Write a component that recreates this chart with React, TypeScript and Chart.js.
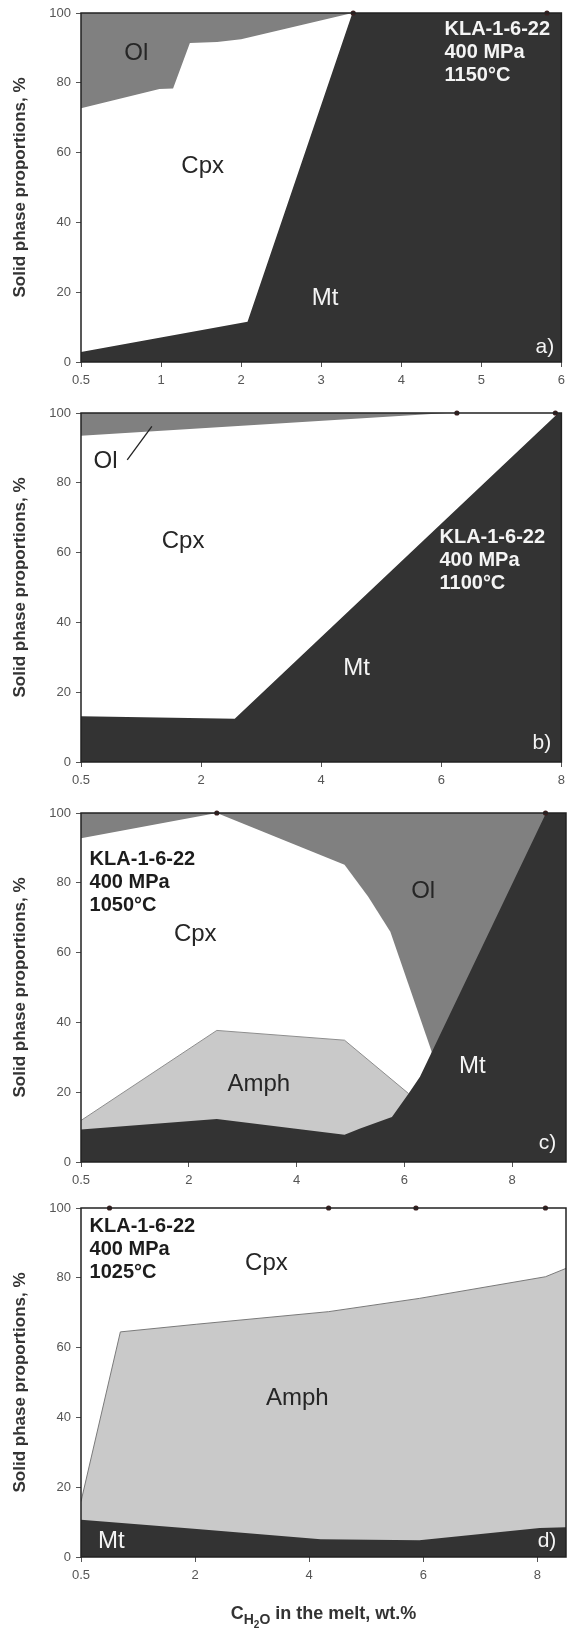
import React, { useEffect, useRef } from 'react';
import { Chart, registerables } from 'chart.js';

Chart.register(...registerables);

const FONT = '"Liberation Sans", Arial, Helvetica, sans-serif';

// ---------- shared axis data ----------
const yTicks = [0, 20, 40, 60, 80, 100];
const yTitle = 'Solid phase proportions, %';

// ---------- panel a (1150°C) ----------
const aXTicks = [0, 1, 2, 3, 4, 5, 6];
const aXLabels = ['0.5', '1', '2', '3', '4', '5', '6'];
const aOlX = [0, 6];
const aOlY = [100, 100];
const aCpxX = [0, 0.98, 1.15, 1.36, 1.7, 2.0, 3.39];
const aCpxY = [72.7, 78.2, 78.4, 91.4, 91.7, 92.5, 100];
const aMtX = [0, 2.08, 3.39, 6];
const aMtY = [2.9, 11.5, 100, 100];
const aDotsX = [3.4, 5.82];

// ---------- panel b (1100°C) ----------
const bXTicks = [0, 2, 4, 6, 8];
const bXLabels = ['0.5', '2', '4', '6', '8'];
const bOlX = [0, 8];
const bOlY = [100, 100];
const bCpxX = [0, 6.1, 8];
const bCpxY = [93.5, 100, 100];
const bMtX = [0, 2.56, 7.95, 8];
const bMtY = [13.1, 12.4, 100, 100];
const bDotsX = [6.26, 7.9];
const bPointerX = [0.77, 1.18];
const bPointerY = [86.6, 96.2];

// ---------- panel c (1050°C) ----------
const cXTicks = [0, 2, 4, 6, 8];
const cXLabels = ['0.5', '2', '4', '6', '8'];
const cOlX = [0, 9];
const cOlY = [100, 100];
const cCpxX = [0, 2.52, 4.89, 5.33, 5.74, 6.51];
const cCpxY = [92.8, 100, 85.2, 76, 66, 31.5];
const cAmphX = [0, 2.52, 4.89, 6.08];
const cAmphY = [11.9, 37.7, 34.9, 19.6];
const cMtX = [0, 2.52, 4.89, 5.18, 5.77, 6.08, 6.29, 6.51, 8.63, 9];
const cMtY = [9.3, 12.3, 7.8, 9.6, 12.9, 19.6, 24.4, 31.5, 100, 100];
const cDotsX = [2.52, 8.62];

// ---------- panel d (1025°C) ----------
const dXTicks = [0, 2, 4, 6, 8];
const dXLabels = ['0.5', '2', '4', '6', '8'];
const dCpxX = [0, 8.5];
const dCpxY = [100, 100];
const dAmphX = [0, 0.69, 2.03, 4.34, 5.93, 8.14, 8.5];
const dAmphY = [15.9, 64.5, 66.7, 70.3, 74.1, 80.3, 82.7];
const dMtX = [0, 2.03, 4.2, 5.93, 8.04, 8.5];
const dMtY = [10.7, 8.0, 5.1, 4.8, 8.3, 8.5];
const dDotsX = [0.5, 4.34, 5.87, 8.14];

// ---------- styles ----------
const DARK = '#333333';
const OL = '#808080';
const AMPH = '#c9c9c9';
const WHITE = '#ffffff';
const INK = '#262626';
const LIGHT_TXT = '#f4f4f4';

type Layer = { name: string; x: number[]; y: number[]; color: string; border?: string };
type Label = { lines: string[]; x: number; y: number; kind: 'phase' | 'info' | 'tag'; color: string; align: CanvasTextAlign };
type Panel = {
  top: number;
  xMax: number;
  xTicks: number[];
  xLabels: string[];
  layers: Layer[];
  dotsX: number[];
  labels: Label[];
  pointer?: { x: number[]; y: number[] };
  xTitle?: boolean;
};

const PLOT_H = 349;
const PAD_TOP = 13;
const Y_AXIS_W = 81;
const RIGHT_PAD = 5;

const panels: Panel[] = [
  {
    top: 13,
    xMax: 6,
    xTicks: aXTicks,
    xLabels: aXLabels,
    layers: [
      { name: 'Ol', x: aOlX, y: aOlY, color: OL },
      { name: 'Cpx', x: aCpxX, y: aCpxY, color: WHITE },
      { name: 'Mt', x: aMtX, y: aMtY, color: DARK },
    ],
    dotsX: aDotsX,
    labels: [
      { lines: ['Ol'], x: 0.69, y: 88.5, kind: 'phase', color: INK, align: 'center' },
      { lines: ['Cpx'], x: 1.52, y: 56, kind: 'phase', color: INK, align: 'center' },
      { lines: ['Mt'], x: 3.05, y: 18.2, kind: 'phase', color: LIGHT_TXT, align: 'center' },
      { lines: ['KLA-1-6-22', '400 MPa', '1150°C'], x: 4.54, y: 95.3, kind: 'info', color: LIGHT_TXT, align: 'left' },
      { lines: ['a)'], x: 5.91, y: 4.3, kind: 'tag', color: LIGHT_TXT, align: 'right' },
    ],
  },
  {
    top: 413,
    xMax: 8,
    xTicks: bXTicks,
    xLabels: bXLabels,
    layers: [
      { name: 'Ol', x: bOlX, y: bOlY, color: OL },
      { name: 'Cpx', x: bCpxX, y: bCpxY, color: WHITE },
      { name: 'Mt', x: bMtX, y: bMtY, color: DARK },
    ],
    dotsX: bDotsX,
    pointer: { x: bPointerX, y: bPointerY },
    labels: [
      { lines: ['Ol'], x: 0.41, y: 86.2, kind: 'phase', color: INK, align: 'center' },
      { lines: ['Cpx'], x: 1.7, y: 63.2, kind: 'phase', color: INK, align: 'center' },
      { lines: ['Mt'], x: 4.59, y: 26.9, kind: 'phase', color: LIGHT_TXT, align: 'center' },
      { lines: ['KLA-1-6-22', '400 MPa', '1100°C'], x: 5.97, y: 64.2, kind: 'info', color: LIGHT_TXT, align: 'left' },
      { lines: ['b)'], x: 7.83, y: 5.4, kind: 'tag', color: LIGHT_TXT, align: 'right' },
    ],
  },
  {
    top: 813,
    xMax: 9,
    xTicks: cXTicks,
    xLabels: cXLabels,
    layers: [
      { name: 'Ol', x: cOlX, y: cOlY, color: OL },
      { name: 'Cpx', x: cCpxX, y: cCpxY, color: WHITE },
      { name: 'Amph', x: cAmphX, y: cAmphY, color: AMPH, border: '#8e8e8e' },
      { name: 'Mt', x: cMtX, y: cMtY, color: DARK },
    ],
    dotsX: cDotsX,
    labels: [
      { lines: ['KLA-1-6-22', '400 MPa', '1050°C'], x: 0.16, y: 86.6, kind: 'info', color: '#1c1c1c', align: 'left' },
      { lines: ['Cpx'], x: 2.12, y: 65.1, kind: 'phase', color: INK, align: 'center' },
      { lines: ['Ol'], x: 6.35, y: 77.6, kind: 'phase', color: INK, align: 'center' },
      { lines: ['Amph'], x: 3.3, y: 22.2, kind: 'phase', color: INK, align: 'center' },
      { lines: ['Mt'], x: 7.26, y: 27.4, kind: 'phase', color: LIGHT_TXT, align: 'center' },
      { lines: ['c)'], x: 8.82, y: 5.4, kind: 'tag', color: LIGHT_TXT, align: 'right' },
    ],
  },
  {
    top: 1208,
    xMax: 8.5,
    xTicks: dXTicks,
    xLabels: dXLabels,
    layers: [
      { name: 'Cpx', x: dCpxX, y: dCpxY, color: WHITE },
      { name: 'Amph', x: dAmphX, y: dAmphY, color: AMPH, border: '#7a7a7a' },
      { name: 'Mt', x: dMtX, y: dMtY, color: DARK },
    ],
    dotsX: dDotsX,
    xTitle: true,
    labels: [
      { lines: ['KLA-1-6-22', '400 MPa', '1025°C'], x: 0.15, y: 94.6, kind: 'info', color: '#1c1c1c', align: 'left' },
      { lines: ['Cpx'], x: 3.25, y: 84.1, kind: 'phase', color: INK, align: 'center' },
      { lines: ['Amph'], x: 3.79, y: 45.5, kind: 'phase', color: INK, align: 'center' },
      { lines: ['Mt'], x: 0.53, y: 4.5, kind: 'phase', color: LIGHT_TXT, align: 'center' },
      { lines: ['d)'], x: 8.33, y: 4.5, kind: 'tag', color: LIGHT_TXT, align: 'right' },
    ],
  },
];

function fontFor(kind: Label['kind']) {
  if (kind === 'info') return `bold 20px ${FONT}`;
  if (kind === 'tag') return `21px ${FONT}`;
  return `24px ${FONT}`;
}

function makeOverlay(panel: Panel) {
  return {
    id: 'overlay',
    afterDatasetsDraw(chart: any) {
      const { ctx, chartArea: a } = chart;
      ctx.save();
      ctx.strokeStyle = '#222';
      ctx.lineWidth = 1.5;
      ctx.strokeRect(a.left, a.top, a.right - a.left, a.bottom - a.top);
      ctx.restore();
    },
    afterDraw(chart: any) {
      const { ctx, chartArea: a } = chart;
      const xs = chart.scales.x;
      const ys = chart.scales.y;
      ctx.save();
      ctx.textBaseline = 'middle';
      for (const lb of panel.labels) {
        const px = xs.getPixelForValue(lb.x);
        const py = ys.getPixelForValue(lb.y);
        ctx.font = fontFor(lb.kind);
        ctx.fillStyle = lb.color;
        ctx.textAlign = lb.align;
        lb.lines.forEach((t, k) => ctx.fillText(t, px, py + k * 23));
      }
      if (panel.xTitle) {
        const big = `bold 18px ${FONT}`;
        const sub = `bold 14px ${FONT}`;
        const sub2 = `bold 10px ${FONT}`;
        const parts: [string, string, number][] = [
          ['C', big, 0],
          ['H', sub, 5],
          ['2', sub2, 9],
          ['O', sub, 5],
          [' in the melt, wt.%', big, 0],
        ];
        let total = 0;
        for (const [t, f] of parts) {
          ctx.font = f;
          total += ctx.measureText(t).width;
        }
        let x = (a.left + a.right) / 2 - total / 2;
        const baseY = a.bottom + 62;
        ctx.fillStyle = '#333';
        ctx.textAlign = 'left';
        ctx.textBaseline = 'alphabetic';
        for (const [t, f, dy] of parts) {
          ctx.font = f;
          ctx.fillText(t, x, baseY + dy);
          x += ctx.measureText(t).width;
        }
      }
      ctx.restore();
    },
  };
}

function PanelChart({ panel }: { panel: Panel }) {
  const ref = useRef<HTMLCanvasElement | null>(null);
  const xAxisH = panel.xTitle ? 1637 - (panel.top + PLOT_H) : 40;
  const height = PAD_TOP + PLOT_H + xAxisH;
  const canvasTop = panel.top - PAD_TOP;

  useEffect(() => {
    if (!ref.current) return;
    const datasets: any[] = panel.layers.map((l, i) => ({
      label: l.name,
      data: l.x.map((x, j) => ({ x, y: l.y[j] })),
      backgroundColor: l.color,
      borderColor: l.border ?? l.color,
      borderWidth: l.border ? 1 : 0,
      fill: 'origin',
      pointRadius: 0,
      tension: 0,
      order: 10 - i,
    }));
    if (panel.pointer) {
      datasets.push({
        label: 'pointer',
        data: panel.pointer.x.map((x, j) => ({ x, y: panel.pointer!.y[j] })),
        borderColor: '#222',
        borderWidth: 1.3,
        pointRadius: 0,
        fill: false,
        order: -1,
      });
    }
    datasets.push({
      label: 'samples',
      data: panel.dotsX.map((x) => ({ x, y: 100 })),
      showLine: false,
      pointRadius: 2.6,
      pointBackgroundColor: '#3a2020',
      pointBorderWidth: 0,
      fill: false,
      order: -2,
      clip: false,
    });

    const chart = new Chart(ref.current, {
      type: 'line',
      data: { datasets },
      options: {
        animation: false,
        responsive: false,
        devicePixelRatio: 1,
        events: [],
        layout: { padding: { top: PAD_TOP, right: RIGHT_PAD, left: 0, bottom: 0 } },
        plugins: { legend: { display: false }, tooltip: { enabled: false } },
        scales: {
          x: {
            type: 'linear',
            min: 0,
            max: panel.xMax,
            afterBuildTicks: (s: any) => {
              s.ticks = panel.xTicks.map((v) => ({ value: v }));
            },
            afterFit: (s: any) => {
              s.height = xAxisH;
            },
            ticks: {
              callback: (_v: any, i: number) => panel.xLabels[i],
              font: { family: FONT, size: 13 },
              color: '#555',
              padding: 6,
              maxRotation: 0,
              autoSkip: false,
            },
            grid: { drawOnChartArea: false, drawTicks: true, tickLength: 5, color: '#555' },
            border: { display: false },
          },
          y: {
            type: 'linear',
            min: 0,
            max: 100,
            afterBuildTicks: (s: any) => {
              s.ticks = yTicks.map((v) => ({ value: v }));
            },
            afterFit: (s: any) => {
              s.width = Y_AXIS_W;
            },
            ticks: {
              font: { family: FONT, size: 13 },
              color: '#555',
              padding: 5,
            },
            grid: { drawOnChartArea: false, drawTicks: true, tickLength: 5, color: '#555' },
            border: { display: false },
            title: {
              display: true,
              text: yTitle,
              font: { family: FONT, size: 17, weight: 'bold' },
              color: '#333',
              padding: { top: 10, bottom: 0 },
            },
          },
        },
      },
      plugins: [makeOverlay(panel)],
    } as any);
    return () => chart.destroy();
  }, [panel]);

  return (
    <canvas
      ref={ref}
      width={571}
      height={height}
      style={{ position: 'absolute', left: 0, top: canvasTop, width: 571, height, display: 'block' }}
    />
  );
}

export default function App() {
  return (
    <div style={{ position: 'absolute', left: 0, top: 0, width: 571, height: 1637, background: '#fff' }}>
      {panels.map((p, i) => (
        <PanelChart key={i} panel={p} />
      ))}
    </div>
  );
}
